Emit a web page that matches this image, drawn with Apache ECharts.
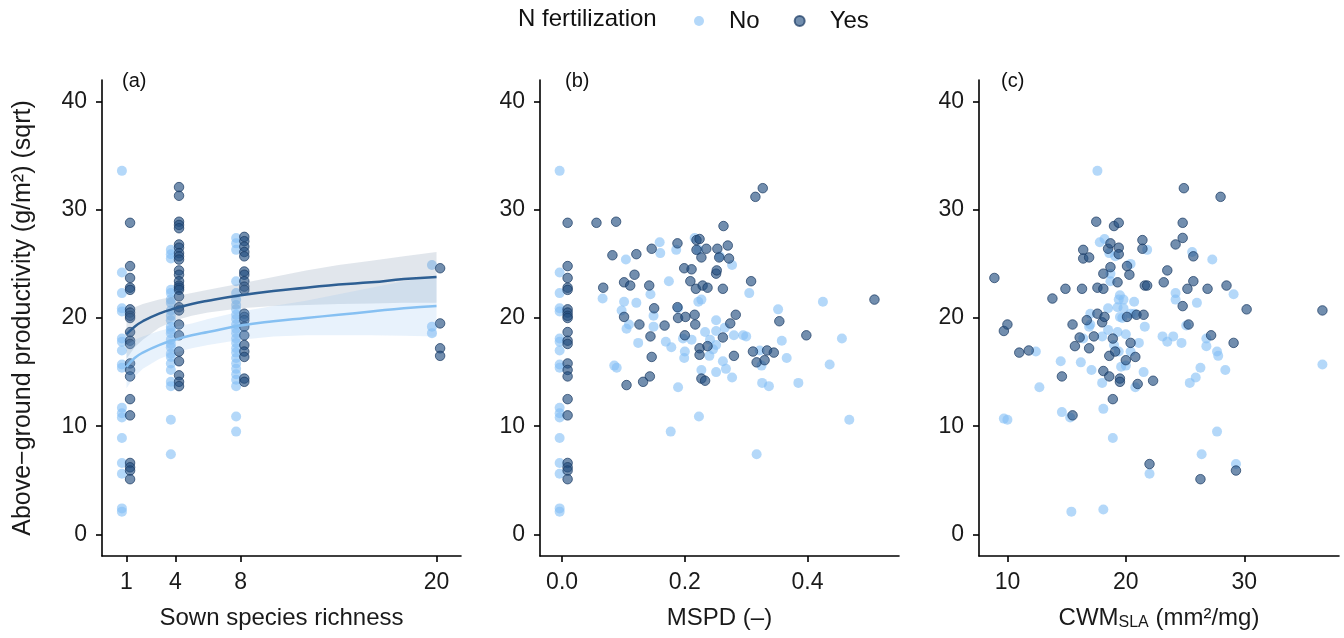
<!DOCTYPE html>
<html>
<head>
<meta charset="utf-8">
<script src="https://cdn.jsdelivr.net/npm/echarts@6/dist/echarts.min.js"></script>
<style>
html,body{margin:0;padding:0;background:#fff;}
#main{width:1344px;height:638px;}
</style>
</head>
<body>
<div id="main"></div>
<script>
var chart = echarts.init(document.getElementById("main"));

// productivity of monocultures (richness 1 / MSPD 0)
var monoNo = [33.6, 24.2, 22.3, 20.9, 20.6, 18.1, 17.8, 17.0, 15.7, 15.4, 11.7, 11.2, 10.8, 8.9, 6.6, 5.6, 2.4, 2.1];
var monoYes = [28.8, 24.8, 23.7, 22.8, 22.6, 20.8, 20.5, 20.2, 20.0, 18.7, 17.9, 17.6, 15.8, 15.2, 14.6, 12.5, 11.0, 6.6, 6.2, 5.9, 5.1];
var no4 = [26.3, 25.9, 25.5, 22.6, 22.3, 21.7, 21.4, 20.7, 20.2, 19.8, 19.2, 18.9, 18.6, 18.0, 17.6, 17.3, 16.7, 16.4, 15.8, 15.2, 14.1, 13.7, 10.6, 7.4];
var yes4 = [32.1, 31.3, 28.9, 28.6, 28.3, 26.8, 26.5, 26.0, 25.7, 25.4, 24.4, 24.0, 23.4, 23.0, 22.8, 22.6, 22.0, 21.0, 20.7, 19.4, 18.4, 16.9, 16.0, 14.7, 14.1, 13.7];
var no8 = [27.4, 26.9, 26.3, 23.4, 22.3, 21.7, 21.2, 20.8, 20.3, 19.9, 19.4, 19.0, 18.6, 18.1, 17.7, 17.2, 16.8, 16.3, 15.8, 15.3, 14.8, 14.3, 13.7, 10.9, 9.5];
var yes8 = [27.5, 27.1, 26.6, 26.1, 25.7, 24.3, 24.0, 23.4, 22.9, 22.6, 20.4, 20.1, 19.8, 19.2, 18.4, 17.5, 16.9, 16.4, 14.4, 14.1];
var no20 = [24.9, 19.2, 18.6];
var yes20 = [24.6, 19.5, 17.2, 16.5];

// fitted curves (a)
var fitX = [1, 1.5, 2, 3, 4, 5, 6, 8, 10, 12, 14, 16, 18, 20];
var yesFit = [18.5, 19.2, 19.7, 20.4, 20.9, 21.3, 21.6, 22.1, 22.5, 22.8, 23.1, 23.3, 23.6, 23.8];
var yesLo = [16.2, 17.3, 18.0, 19.1, 19.8, 20.2, 20.5, 20.9, 21.1, 21.2, 21.3, 21.35, 21.4, 21.4];
var yesHi = [20.7, 21.0, 21.3, 21.7, 22.0, 22.3, 22.6, 23.2, 23.8, 24.4, 24.9, 25.3, 25.7, 26.1];
var noFit = [15.5, 16.3, 16.8, 17.5, 18.0, 18.4, 18.7, 19.3, 19.7, 20.0, 20.3, 20.6, 20.9, 21.1];
var noLo = [13.5, 14.6, 15.3, 16.2, 16.8, 17.2, 17.5, 18.0, 18.3, 18.4, 18.4, 18.4, 18.35, 18.3];
var noHi = [17.5, 18.0, 18.3, 18.8, 19.2, 19.5, 19.9, 20.6, 21.1, 21.6, 22.2, 22.8, 23.4, 23.9];

// (b) MSPD, productivity (mixtures)
var mspdNo = [[0.066,21.8],[0.104,25.4],[0.101,21.5],[0.097,20.7],[0.109,19.4],[0.105,19.0],[0.121,21.4],[0.124,17.7],[0.144,22.2],[0.149,20.2],[0.149,19.2],[0.159,27.0],[0.160,26.0],[0.174,23.4],[0.169,17.8],[0.178,17.3],[0.186,26.3],[0.189,20.9],[0.197,18.1],[0.211,18.0],[0.216,27.4],[0.222,26.3],[0.222,21.5],[0.227,21.7],[0.233,18.7],[0.241,18.0],[0.246,17.1],[0.251,19.8],[0.257,25.7],[0.265,19.1],[0.277,24.9],[0.280,18.4],[0.295,18.4],[0.300,18.3],[0.305,22.3],[0.322,17.0],[0.352,20.8],[0.358,17.9],[0.425,21.5],[0.456,18.1],[0.085,15.6],[0.089,15.4],[0.189,13.6],[0.200,16.9],[0.199,16.3],[0.223,10.9],[0.177,9.5],[0.227,15.2],[0.240,16.5],[0.251,17.5],[0.251,15.0],[0.262,16.0],[0.267,15.3],[0.277,14.5],[0.317,7.4],[0.325,15.6],[0.326,14.0],[0.337,13.7],[0.366,16.3],[0.385,14.0],[0.436,15.7],[0.468,10.6],[0.251,18.8]];
var mspdYes = [[0.056,28.8],[0.088,28.9],[0.082,25.8],[0.067,22.8],[0.101,23.3],[0.111,23.0],[0.118,24.0],[0.121,25.9],[0.146,26.4],[0.142,23.0],[0.150,20.9],[0.101,20.1],[0.126,19.4],[0.144,18.3],[0.167,19.3],[0.188,26.9],[0.188,21.0],[0.189,20.0],[0.201,20.1],[0.199,24.6],[0.211,24.5],[0.209,23.4],[0.216,20.3],[0.217,19.4],[0.219,27.2],[0.224,27.3],[0.219,26.3],[0.227,25.6],[0.235,26.4],[0.218,22.7],[0.229,23.0],[0.237,22.8],[0.224,17.2],[0.237,17.4],[0.253,26.4],[0.256,25.6],[0.270,26.7],[0.272,25.5],[0.263,28.5],[0.251,24.1],[0.252,24.4],[0.262,22.7],[0.262,18.2],[0.274,19.5],[0.283,20.3],[0.308,23.4],[0.315,31.2],[0.327,32.0],[0.354,19.7],[0.398,18.4],[0.509,21.7],[0.280,16.5],[0.311,16.9],[0.334,17.0],[0.345,16.8],[0.146,16.4],[0.317,15.9],[0.330,16.1],[0.105,13.8],[0.143,14.6],[0.132,14.1],[0.200,18.4],[0.224,16.6],[0.227,14.4],[0.233,14.2]];

// (c) CWM SLA, productivity
var slaNo = [[17.6,33.6],[17.8,27.0],[18.2,27.3],[18.6,26.0],[19.1,25.7],[20.4,25.0],[21.8,26.3],[18.7,24.1],[18.7,23.4],[19.5,22.1],[19.8,21.7],[19.4,21.7],[19.3,21.0],[19.8,20.9],[20.7,21.5],[20.4,20.4],[19.5,20.1],[18.5,20.9],[17.0,20.4],[16.9,19.2],[18.5,18.9],[19.3,18.7],[20.0,18.5],[21.1,17.7],[21.6,19.2],[23.1,18.3],[23.5,17.8],[24.0,18.3],[24.7,17.7],[24.2,22.3],[24.2,21.7],[25.6,26.1],[27.3,25.4],[26.0,21.4],[25.1,19.3],[29.1,22.2],[26.8,17.4],[26.8,18.1],[27.7,16.9],[12.4,16.9],[14.5,16.0],[12.7,13.6],[9.7,10.7],[10.0,10.6],[14.6,11.3],[15.3,10.8],[15.4,2.1],[18.1,2.3],[18.9,8.9],[18.1,11.6],[18.0,14.0],[17.1,15.2],[16.2,15.9],[16.4,18.1],[17.0,19.4],[18.0,18.3],[19.0,17.5],[19.4,16.9],[19.6,15.5],[20.0,15.6],[20.4,16.9],[21.5,15.0],[20.8,13.6],[22.0,5.6],[25.4,14.0],[25.9,14.5],[26.3,15.4],[26.4,7.4],[27.8,16.5],[27.7,9.5],[28.4,15.2],[29.3,6.5],[36.6,15.7],[19.7,20.0],[20.7,20.4]];
var slaYes = [[8.9,23.7],[9.7,18.8],[10.0,19.4],[11.0,16.8],[11.8,17.0],[13.8,21.8],[14.9,22.7],[16.3,22.7],[16.4,26.3],[16.4,25.5],[16.9,25.6],[15.5,19.4],[15.7,17.4],[16.1,18.2],[16.7,19.8],[16.9,17.2],[17.3,18.3],[17.5,28.9],[17.6,22.8],[18.1,24.1],[18.1,22.7],[17.6,20.4],[18.0,19.6],[18.2,20.1],[18.5,26.4],[18.7,26.9],[18.7,24.7],[19.0,28.5],[19.4,28.8],[19.4,26.5],[19.4,25.9],[19.3,23.3],[18.9,18.1],[20.1,24.8],[20.3,24.0],[20.1,20.1],[20.9,20.3],[21.4,27.2],[21.4,26.4],[21.5,20.3],[21.6,23.0],[21.8,23.0],[20.4,17.7],[23.2,23.3],[23.5,24.4],[24.2,26.8],[24.8,27.4],[24.8,28.8],[24.9,32.0],[24.8,21.1],[25.2,22.7],[25.7,25.7],[25.7,23.4],[25.3,19.4],[26.9,22.7],[27.2,18.4],[28.0,31.2],[28.5,23.0],[29.1,17.7],[30.2,20.8],[36.6,20.7],[14.6,14.6],[15.5,11.0],[18.1,15.1],[18.6,14.6],[18.9,12.5],[18.6,16.5],[19.1,16.9],[19.5,14.4],[19.5,14.1],[20.0,16.1],[20.8,16.4],[21.0,13.9],[22.3,14.2],[22.0,6.5],[26.3,5.1],[29.3,5.9]];

var yTicks = [0, 10, 20, 30, 40];
var richTicks = [1, 4, 8, 20];
var mspdTicks = [0, 0.2, 0.4];
var slaTicks = [10, 20, 30];

var FONT = "'Liberation Sans', Arial, sans-serif";
var NO_COL = "rgba(130,190,245,0.75)";
var YES_COL = "rgba(35,78,128,0.8)";

function col(r, arr){
    return arr.map(function(v){ return [r, v]; });
}
var richNo = [].concat(col(1 - 0.28, monoNo), col(4 - 0.28, no4), col(8 - 0.28, no8), col(20 - 0.28, no20));
var richYes = [].concat(col(1 + 0.22, monoYes), col(4 + 0.22, yes4), col(8 + 0.22, yes8), col(20 + 0.22, yes20));
var bNo = col(-0.004, monoNo).concat(mspdNo);
var bYes = col(0.009, monoYes).concat(mspdYes);

function zip(xs, ys){ return xs.map(function(x, i){ return [x, ys[i]]; }); }
function band(xs, lo, hi){ return xs.map(function(x, i){ return [x, lo[i], hi[i]]; }); }

function bandRender(color){
    return function(params, api){
        if (params.dataIndexInside !== 0) return;
        var n = params.dataInsideLength;
        var up = [], down = [];
        for (var i = 0; i < n; i++) {
            up.push(api.coord([api.value(0, i), api.value(2, i)]));
            down.unshift(api.coord([api.value(0, i), api.value(1, i)]));
        }
        return { type: 'polygon', silent: true, shape: { points: up.concat(down) }, style: { fill: color } };
    };
}

var axisLine = { show: true, onZero: false, lineStyle: { color: '#000', width: 1.6 } };
var axisTick = { show: true, length: 6, lineStyle: { color: '#000', width: 1.6 } };
var labelStyle = { color: '#1a1a1a', fontSize: 23, fontFamily: FONT };

function xAxis(i, min, max, ticks, name, fmt, rich){
    return {
        type: 'value', gridIndex: i, min: min, max: max,
        axisLine: axisLine,
        axisTick: Object.assign({ customValues: ticks }, axisTick),
        axisLabel: Object.assign({ customValues: ticks, margin: 15, formatter: fmt }, labelStyle),
        splitLine: { show: false },
        name: name, nameLocation: 'middle', nameGap: 50,
        nameTextStyle: { color: '#1a1a1a', fontSize: 24, fontFamily: FONT, rich: rich }
    };
}
function yAxis(i, name){
    return {
        type: 'value', gridIndex: i, min: -2, max: 42,
        axisLine: axisLine,
        axisTick: Object.assign({ customValues: yTicks }, axisTick),
        axisLabel: Object.assign({ customValues: yTicks, margin: 15 }, labelStyle),
        splitLine: { show: false },
        name: name, nameLocation: 'middle', nameGap: 66,
        nameTextStyle: { color: '#1a1a1a', fontSize: 25, fontFamily: FONT }
    };
}
function pts(name, i, data){
    var yes = name === 'Yes';
    return {
        name: name, type: 'scatter', xAxisIndex: i, yAxisIndex: i, data: data,
        symbol: 'circle', symbolSize: yes ? 9.5 : 10,
        itemStyle: yes ? { color: YES_COL, borderColor: 'rgba(28,60,100,0.9)', borderWidth: 1 } : { color: NO_COL },
        emphasis: { disabled: true }, z: yes ? 3 : 2
    };
}

var option = {
    animation: false,
    backgroundColor: '#fff',
    title: [
        { text: 'N fertilization', left: 513, top: 2, textStyle: { fontSize: 24, fontWeight: 'normal', color: '#111', fontFamily: FONT } },
        { text: '(a)', left: 117, top: 66, textStyle: { fontSize: 20, fontWeight: 'normal', color: '#111', fontFamily: FONT } },
        { text: '(b)', left: 560, top: 66, textStyle: { fontSize: 20, fontWeight: 'normal', color: '#111', fontFamily: FONT } },
        { text: '(c)', left: 996, top: 66, textStyle: { fontSize: 20, fontWeight: 'normal', color: '#111', fontFamily: FONT } }
    ],
    legend: {
        data: ['No', 'Yes'], left: 689, top: 4, icon: 'circle',
        itemWidth: 10, itemHeight: 10, itemGap: 34,
        textStyle: { fontSize: 24, color: '#111', fontFamily: FONT, padding: [0, 0, 0, 20] }
    },
    grid: [
        { left: 102, top: 80, width: 359, height: 476 },
        { left: 540, top: 80, width: 359, height: 476 },
        { left: 979, top: 80, width: 360, height: 476 }
    ],
    xAxis: [
        xAxis(0, -0.5, 21.5, richTicks, 'Sown species richness', function(v){ return String(v); }),
        xAxis(1, -0.036, 0.549, mspdTicks, 'MSPD (\u2013)', function(v){ return v.toFixed(1); }),
        xAxis(2, 7.6, 38.0, slaTicks, '{a|CWM}{s|SLA}{a| (mm\u00b2/mg)}', function(v){ return String(v); }, {
            a: { fontSize: 24, color: '#1a1a1a', fontFamily: FONT },
            s: { fontSize: 16, color: '#1a1a1a', fontFamily: FONT, verticalAlign: 'bottom', padding: [9, 0, 0, 0] }
        })
    ],
    yAxis: [
        yAxis(0, 'Above\u2212ground productivity (g/m\u00b2) (sqrt)'),
        yAxis(1, ''),
        yAxis(2, '')
    ],
    series: [
        pts('No', 0, richNo), pts('Yes', 0, richYes),
        pts('No', 1, bNo), pts('Yes', 1, bYes),
        pts('No', 2, slaNo), pts('Yes', 2, slaYes),
        { name: 'yesBand', type: 'custom', xAxisIndex: 0, yAxisIndex: 0, data: band(fitX, yesLo, yesHi),
          renderItem: bandRender('rgba(120,140,170,0.22)'), z: 4 },
        { name: 'noBand', type: 'custom', xAxisIndex: 0, yAxisIndex: 0, data: band(fitX, noLo, noHi),
          renderItem: bandRender('rgba(140,190,240,0.2)'), z: 4 },
        { name: 'yesFit', type: 'line', xAxisIndex: 0, yAxisIndex: 0, data: zip(fitX, yesFit), smooth: true,
          showSymbol: false, lineStyle: { color: '#2e5f93', width: 2.5 }, z: 5 },
        { name: 'noFit', type: 'line', xAxisIndex: 0, yAxisIndex: 0, data: zip(fitX, noFit), smooth: true,
          showSymbol: false, lineStyle: { color: '#86c0f2', width: 2.5 }, z: 5 }
    ]
};
chart.setOption(option);
</script>
</body>
</html>
